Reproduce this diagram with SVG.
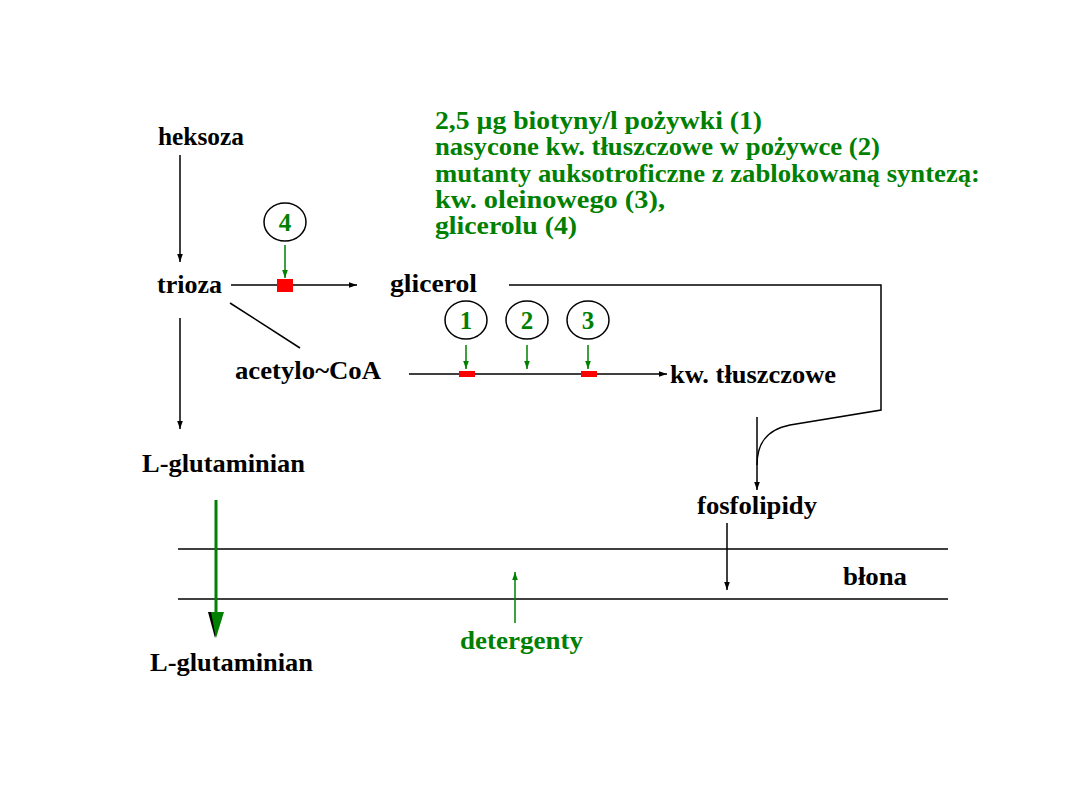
<svg xmlns="http://www.w3.org/2000/svg" width="1080" height="810" viewBox="0 0 1080 810">
<style>
text{font-family:"Liberation Serif","Times New Roman",serif;font-weight:bold;font-size:25px}
.k{fill:#000}
.g{fill:#008000}
.ln{stroke:#000;stroke-width:1.5;fill:none}
.gl{stroke:#008000;stroke-width:1.5;fill:none}
.c{fill:none;stroke:#000;stroke-width:1.5}
.red{fill:#ff0000}
</style>
<defs>
<marker id="ak" viewBox="0 0 10 10" refX="10" refY="5" markerWidth="9" markerHeight="8" markerUnits="userSpaceOnUse" orient="auto"><path d="M0,1.5 L10,5 L0,8.5 z" fill="#000"/></marker>
<marker id="ag" viewBox="0 0 10 10" refX="10" refY="5" markerWidth="9" markerHeight="8" markerUnits="userSpaceOnUse" orient="auto"><path d="M0,1.5 L10,5 L0,8.5 z" fill="#008000"/></marker>
</defs>
<rect width="1080" height="810" fill="#fff"/>

<g id="legend">
<text class="g" x="435" y="129" textLength="327" lengthAdjust="spacingAndGlyphs">2,5 µg biotyny/l pożywki (1)</text>
<text class="g" x="435" y="155" textLength="445" lengthAdjust="spacingAndGlyphs">nasycone kw. tłuszczowe w pożywce (2)</text>
<text class="g" x="435" y="182" textLength="545" lengthAdjust="spacingAndGlyphs">mutanty auksotroficzne z zablokowaną syntezą:</text>
<text class="g" x="435" y="208" textLength="230" lengthAdjust="spacingAndGlyphs">kw. oleinowego (3),</text>
<text class="g" x="435" y="234" textLength="142" lengthAdjust="spacingAndGlyphs">glicerolu (4)</text>
</g>

<g id="heksoza"><text class="k" x="158" y="145" textLength="86" lengthAdjust="spacingAndGlyphs">heksoza</text></g>
<g id="trioza"><text class="k" x="157" y="293" textLength="65" lengthAdjust="spacingAndGlyphs">trioza</text></g>
<g id="glicerol"><text class="k" x="390" y="292" textLength="87" lengthAdjust="spacingAndGlyphs">glicerol</text></g>
<g id="acetylo"><text class="k" x="235" y="379" textLength="146" lengthAdjust="spacingAndGlyphs">acetylo~CoA</text></g>
<g id="kwt"><text class="k" x="670" y="383" textLength="166" lengthAdjust="spacingAndGlyphs">kw. tłuszczowe</text></g>
<g id="lglu1"><text class="k" x="142" y="472" textLength="163" lengthAdjust="spacingAndGlyphs">L-glutaminian</text></g>
<g id="fosfolipidy"><text class="k" x="697" y="514" textLength="120" lengthAdjust="spacingAndGlyphs">fosfolipidy</text></g>
<g id="blona"><text class="k" x="843" y="585" textLength="64" lengthAdjust="spacingAndGlyphs">błona</text></g>
<g id="lglu2"><text class="k" x="150" y="671" textLength="163" lengthAdjust="spacingAndGlyphs">L-glutaminian</text></g>
<g id="detergenty"><text class="g" x="460" y="649" textLength="123" lengthAdjust="spacingAndGlyphs">detergenty</text></g>

<g id="c4"><ellipse class="c" cx="285" cy="222" rx="21" ry="19"/><text class="g" x="285" y="231" text-anchor="middle">4</text></g>
<g id="c1"><ellipse class="c" cx="466" cy="320" rx="21" ry="19"/><text class="g" x="466" y="329" text-anchor="middle">1</text></g>
<g id="c2"><ellipse class="c" cx="527" cy="320" rx="21" ry="19"/><text class="g" x="527" y="329" text-anchor="middle">2</text></g>
<g id="c3"><ellipse class="c" cx="588" cy="320" rx="21" ry="19"/><text class="g" x="588" y="329" text-anchor="middle">3</text></g>

<g id="connectors">
<line class="ln" x1="180" y1="155" x2="180" y2="262" marker-end="url(#ak)"/>
<line class="ln" x1="231" y1="285" x2="357" y2="285" marker-end="url(#ak)"/>
<line class="ln" x1="230" y1="303" x2="300" y2="348"/>
<line class="ln" x1="180" y1="318" x2="180" y2="429" marker-end="url(#ak)"/>
<line class="ln" x1="409" y1="374" x2="667" y2="374" marker-end="url(#ak)"/>
<path class="ln" d="M509,285 H881 V410 L790,425 C765,430 757,445 757,465"/>
<line class="ln" x1="757" y1="417" x2="757" y2="490" marker-end="url(#ak)"/>
<line class="ln" x1="727" y1="523" x2="727" y2="590" marker-end="url(#ak)"/>
<line class="ln" x1="178" y1="549" x2="948" y2="549"/>
<line class="ln" x1="178" y1="599" x2="948" y2="599"/>
<line class="gl" x1="285" y1="245" x2="285" y2="278" marker-end="url(#ag)"/>
<line class="gl" x1="466" y1="345" x2="466" y2="369" marker-end="url(#ag)"/>
<line class="gl" x1="527" y1="345" x2="527" y2="369" marker-end="url(#ag)"/>
<line class="gl" x1="588" y1="345" x2="588" y2="369" marker-end="url(#ag)"/>
<line class="gl" x1="515" y1="623" x2="515" y2="572" marker-end="url(#ag)"/>
<line x1="216" y1="500" x2="216" y2="614" stroke="#008000" stroke-width="3"/>
<path d="M208,612 L222,612 L215,638 z" fill="#000"/>
<path d="M211,612 L224,612 L216,638 z" fill="#008000"/>
<rect class="red" x="277" y="279" width="16" height="13"/>
<rect class="red" x="459" y="371" width="16" height="6"/>
<rect class="red" x="581" y="371" width="16" height="6"/>
</g>
</svg>
